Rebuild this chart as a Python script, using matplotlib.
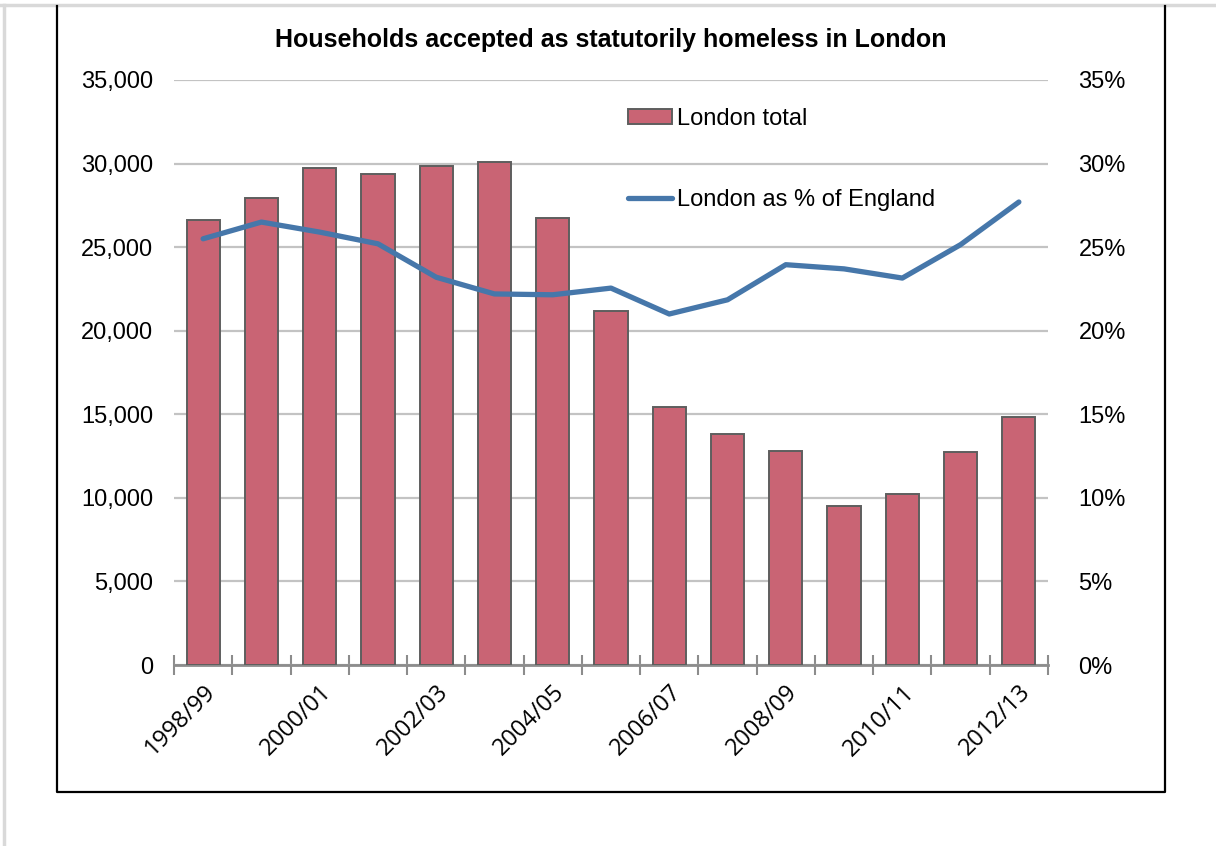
import matplotlib.pyplot as plt
from matplotlib.lines import Line2D
import numpy as np

plt.rcParams['font.family'] = ['Liberation Sans', 'DejaVu Sans']

years = ['1998/99', '1999/00', '2000/01', '2001/02', '2002/03', '2003/04', '2004/05',
         '2005/06', '2006/07', '2007/08', '2008/09', '2009/10', '2010/11', '2011/12', '2012/13']
london_total = [26600, 27960, 29740, 29360, 29840, 30110, 26760,
                21160, 15440, 13840, 12820, 9510, 10210, 12760, 14860]
london_pct = [25.5, 26.5, 25.9, 25.2, 23.2, 22.2, 22.15,
              22.55, 21.0, 21.85, 23.95, 23.7, 23.15, 25.15, 27.7]

bar_color = '#c96474'
line_color = '#4677aa'
grid_color = '#c3c3c3'
axis_color = '#8c8c8c'

fig = plt.figure(figsize=(12.16, 8.46), dpi=100)

# outer frame
fig.add_artist(Line2D([0, 1], [1 - 5 / 846] * 2, color='#d9d9d9', lw=2.5))
fig.add_artist(Line2D([4 / 1216] * 2, [0, 1 - 5 / 846], color='#d9d9d9', lw=2.5))
bx0, bx1, by0, by1 = 57 / 1216, 1165 / 1216, 1 - 792 / 846, 1 - 6 / 846
fig.add_artist(Line2D([bx0, bx0, bx1, bx1], [by1, by0, by0, by1], color='black', lw=1.6))

ax = fig.add_axes([174 / 1216, 1 - 665 / 846, (1048 - 174) / 1216, (665 - 80) / 846])
x = np.arange(len(years))
bars = ax.bar(x, london_total, width=0.57, color=bar_color, edgecolor='#5e5e5e',
              linewidth=1.4, zorder=3, label='London total')

ax.set_xlim(-0.5, len(years) - 0.5)
ax.set_ylim(0, 35000)
ax.set_yticks(np.arange(0, 35001, 5000))
ax.set_yticklabels([f'{v:,}' for v in range(0, 35001, 5000)], fontsize=17)
ax.grid(axis='y', color=grid_color, linewidth=1.6, zorder=0)
ax.set_axisbelow(True)
ax.tick_params(axis='y', length=0, pad=15)

for s in ['top', 'left', 'right']:
    ax.spines[s].set_visible(False)
ax.spines['bottom'].set_color(axis_color)
ax.spines['bottom'].set_linewidth(2)

# labels on every other year, tick marks between categories
ax.set_xticks(x[::2])
ax.set_xticklabels(years[::2], rotation=45, ha='right', va='top', rotation_mode='anchor',
                   fontsize=17, family='Open Sans')
ax.tick_params(axis='x', which='major', length=0, pad=11)
ax.set_xticks(np.arange(-0.5, len(years), 1), minor=True)
ax.tick_params(axis='x', which='minor', length=15, direction='inout', width=1.5, color=axis_color)

ax2 = ax.twinx()
line, = ax2.plot(x, london_pct, color=line_color, linewidth=3.8, solid_capstyle='round',
                 label='London as % of England', zorder=4)
ax2.set_ylim(0, 35)
ax2.set_yticks(np.arange(0, 36, 5))
ax2.set_yticklabels([f'{v}%' for v in range(0, 36, 5)], fontsize=17)
ax2.tick_params(axis='y', length=0, pad=22)
for s in ax2.spines.values():
    s.set_visible(False)

ax2.legend([bars, line], ['London total', 'London as % of England'],
           loc='upper left', bbox_to_anchor=(607 / 1216, 1 - 87 / 846),
           bbox_transform=fig.transFigure, frameon=False, fontsize=17,
           handlelength=1.85, handletextpad=0.2, labelspacing=2.5, handleheight=0.6)

fig.text(611 / 1216, 1 - 40 / 846, 'Households accepted as statutorily homeless in London',
         ha='center', va='center', fontsize=18, fontweight='bold')

fig.savefig('out.png', dpi=100)
